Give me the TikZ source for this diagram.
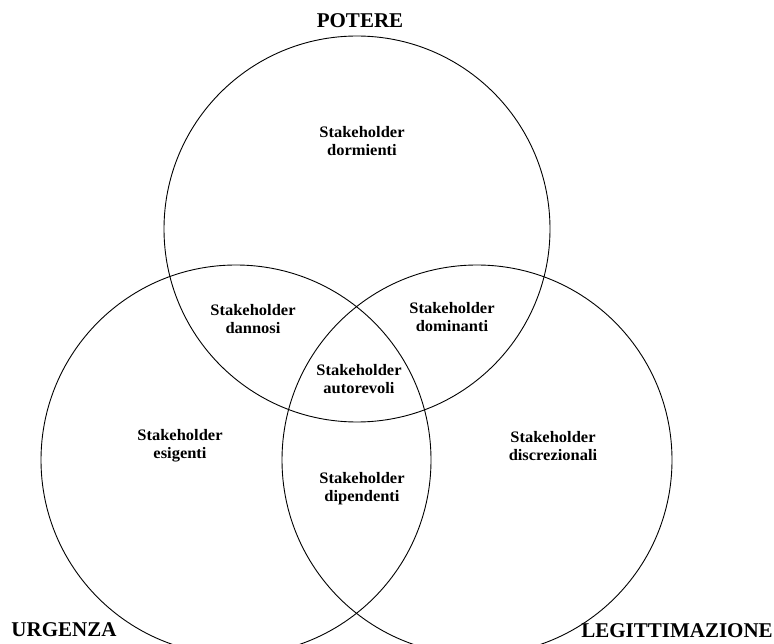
\documentclass[tikz,border=0pt]{standalone}
\usepackage{fontspec}
\setmainfont{Liberation Serif}[FakeStretch=1.03]
\newfontfamily\ttlfont{Liberation Serif}
\begin{document}
\begin{tikzpicture}[x=1pt,y=-1pt,
  ring/.style={draw=black,line width=0.9pt},
  lab/.style={font=\fontsize{16}{18}\selectfont\bfseries,align=center,inner sep=0pt},
  ttl/.style={font=\ttlfont\fontsize{21}{24}\selectfont\bfseries,inner sep=0pt}]
\useasboundingbox (0,0) rectangle (774,644);
\clip (0,0) rectangle (774,644);
\draw[ring] (357,229) circle[radius=193];
\draw[ring] (236,460) circle[radius=195];
\draw[ring] (477,460) circle[radius=195];
\node[ttl,anchor=base] (potere) at (360,28) {POTERE};
\node[ttl,anchor=base] (urgenza) at (64,636) {URGENZA};
\node[ttl,anchor=base] (legit) at (677,637) {LEGITTIMAZIONE};
\node[lab] (dorm) at (362,141) {Stakeholder\\dormienti};
\node[lab] (dann) at (253,319) {Stakeholder\\dannosi};
\node[lab] (domi) at (452,317) {Stakeholder\\dominanti};
\node[lab] (auto) at (359,379) {Stakeholder\\autorevoli};
\node[lab] (dipe) at (362,489) {Stakeholder\\dipendenti};
\node[lab] (esig) at (180,446) {Stakeholder\\esigenti};
\node[lab] (disc) at (553,446) {Stakeholder\\discrezionali};
\end{tikzpicture}
\end{document}
